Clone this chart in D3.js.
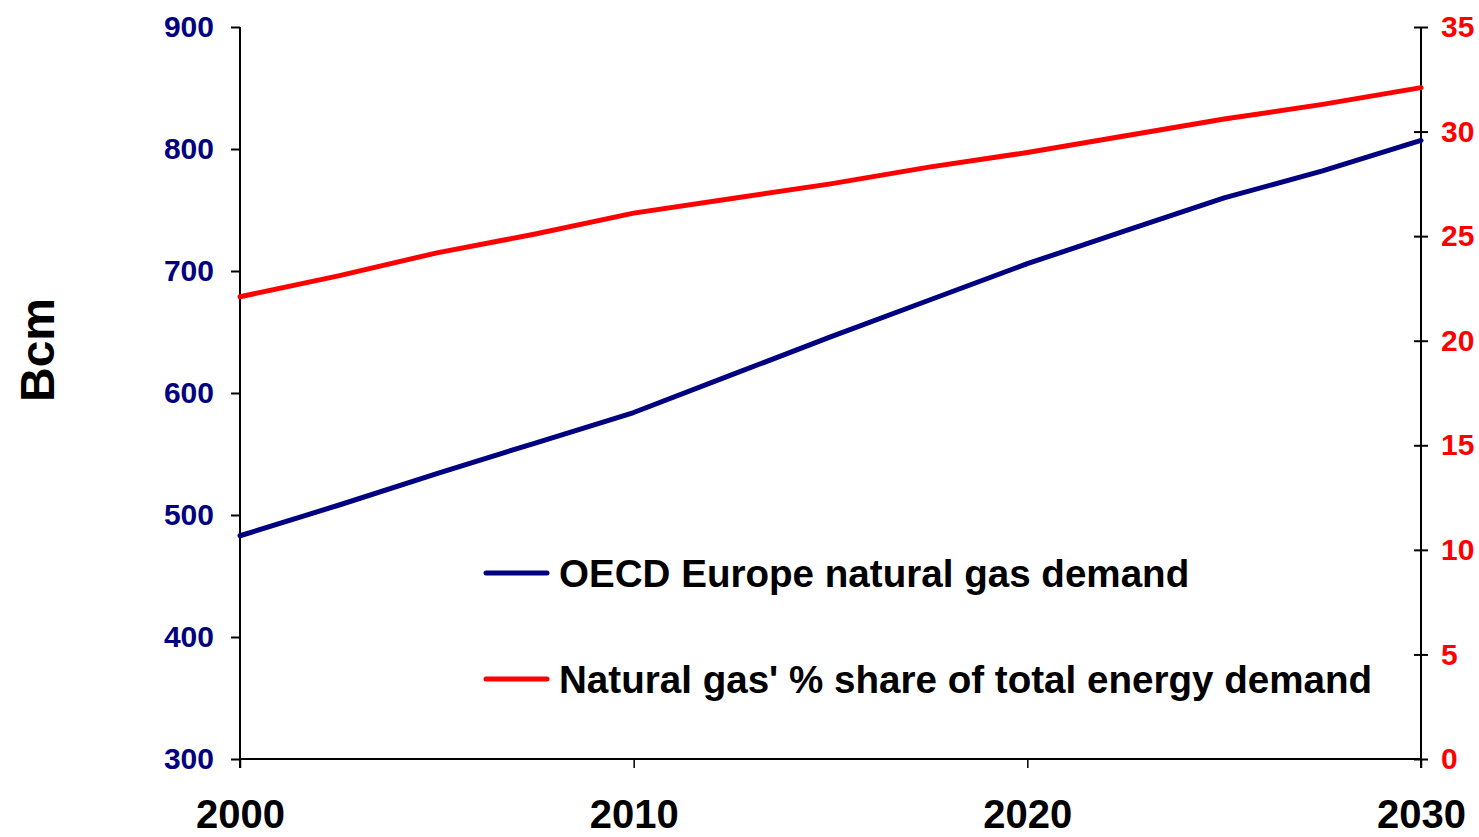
<!DOCTYPE html>
<html>
<head>
<meta charset="utf-8">
<script src="https://cdn.jsdelivr.net/npm/d3@7"></script>
<style>
  body { margin: 0; background: #fff; }
  svg { display: block; font-family: "Liberation Sans", Arial, sans-serif; font-weight: bold; }
</style>
</head>
<body>
<script>
var width = 1479,
    height = 837;

var years = [2000, 2002.5, 2005, 2007.5, 2010, 2012.5, 2015, 2017.5, 2020, 2022.5, 2025, 2027.5, 2030];
var demand = [483, 508, 534, 559, 584, 615, 646, 676, 706, 733, 760, 782, 807];   // Bcm
var share = [22.1, 23.1, 24.2, 25.1, 26.1, 26.8, 27.5, 28.3, 29.0, 29.8, 30.6, 31.3, 32.1]; // %

var xTicks = [2000, 2010, 2020, 2030];
var leftTicks = [300, 400, 500, 600, 700, 800, 900];
var rightTicks = [0, 5, 10, 15, 20, 25, 30, 35];

var legendLabels = ["OECD Europe natural gas demand", "Natural gas' % share of total energy demand"];
var navy = "#000080", red = "#ff0000";

var x = d3.scaleLinear().domain([2000, 2030]).range([240, 1421]);
var yL = d3.scaleLinear().domain([300, 900]).range([759, 27]);
var yR = d3.scaleLinear().domain([0, 35]).range([759, 27]);

var svg = d3.select("body").append("svg")
    .attr("width", width)
    .attr("height", height);

// left axis
var left = svg.append("g")
    .attr("transform", "translate(240,0)")
    .call(d3.axisLeft(yL).tickValues(leftTicks).tickSize(9).tickPadding(17).tickFormat(d3.format("d")));
left.select(".domain").remove();
left.append("line").attr("x1", 0).attr("x2", 0).attr("y1", 27).attr("y2", 768).attr("stroke", "#000").attr("stroke-width", 2);
left.selectAll(".tick line").attr("stroke-width", 2);
left.selectAll(".tick text").attr("fill", navy).style("font-size", "30px").style("font-weight", "bold");

// right axis
var right = svg.append("g")
    .attr("transform", "translate(1421,0)")
    .call(d3.axisRight(yR).tickValues(rightTicks).tickSize(7).tickPadding(13));
right.select(".domain").remove();
right.append("line").attr("x1", 0).attr("x2", 0).attr("y1", 27).attr("y2", 768).attr("stroke", "#000").attr("stroke-width", 2);
right.selectAll(".tick line").attr("x1", -7).attr("stroke-width", 2);
right.selectAll(".tick text").attr("fill", red).style("font-size", "30px").style("font-weight", "bold");

// bottom axis
var bottom = svg.append("g")
    .attr("transform", "translate(0,759)")
    .call(d3.axisBottom(x).tickValues(xTicks).tickSize(9).tickPadding(32).tickFormat(d3.format("d")));
bottom.select(".domain").attr("stroke-width", 2).attr("d", "M240,0H1421");
bottom.selectAll(".tick line").attr("stroke-width", 1.5);
bottom.selectAll(".tick text").attr("fill", "#000").style("font-size", "40px").style("font-weight", "bold");

// y axis title
svg.append("text")
    .attr("transform", "translate(54,350) rotate(-90)")
    .attr("text-anchor", "middle")
    .style("font-size", "48px")
    .text("Bcm");

// lines
var lineL = d3.line().x(function(d, i) { return x(years[i]); }).y(function(d) { return yL(d); });
var lineR = d3.line().x(function(d, i) { return x(years[i]); }).y(function(d) { return yR(d); });

svg.append("path").datum(share)
    .attr("fill", "none").attr("stroke", red).attr("stroke-width", 5)
    .attr("stroke-linejoin", "round").attr("stroke-linecap", "round")
    .attr("d", lineR);

svg.append("path").datum(demand)
    .attr("fill", "none").attr("stroke", navy).attr("stroke-width", 5)
    .attr("stroke-linejoin", "round").attr("stroke-linecap", "round")
    .attr("d", lineL);

// legend
var legend = svg.append("g").selectAll("g")
    .data(legendLabels)
    .enter().append("g")
    .attr("transform", function(d, i) { return "translate(486," + (573 + i * 106) + ")"; });

legend.append("line")
    .attr("x1", 0).attr("x2", 61)
    .attr("stroke", function(d, i) { return i ? red : navy; })
    .attr("stroke-width", 5)
    .attr("stroke-linecap", "round");

legend.append("text")
    .attr("x", 73).attr("y", 14)
    .style("font-size", "38.6px")
    .text(function(d) { return d; });
</script>
</body>
</html>
